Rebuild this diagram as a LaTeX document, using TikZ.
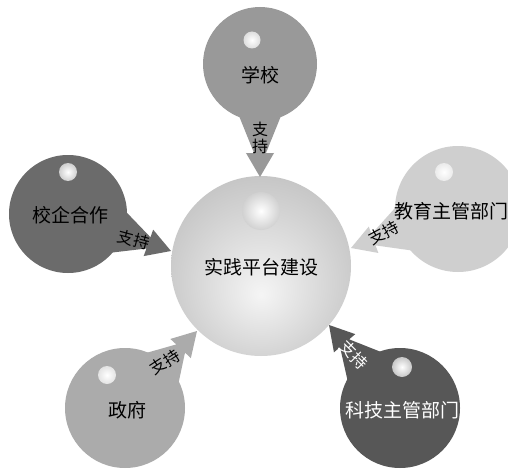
\documentclass[tikz,border=0pt]{standalone}
\usepackage{fontspec}
\setmainfont{Noto Sans CJK SC}
\usetikzlibrary{calc}
\definecolor{cA}{gray}{0.60}
\definecolor{cB}{gray}{0.42}
\definecolor{cC}{gray}{0.81}
\definecolor{cD}{gray}{0.67}
\definecolor{cE}{gray}{0.34}
\definecolor{hA}{gray}{0.74}
\definecolor{hB}{gray}{0.62}
\definecolor{hC}{gray}{0.84}
\definecolor{hD}{gray}{0.78}
\definecolor{hE}{gray}{0.56}
\definecolor{ballin}{gray}{0.96}
\definecolor{ballmid}{gray}{0.78}
\definecolor{ballout}{gray}{0.56}
\definecolor{hlcenter}{gray}{0.64}
\pgfdeclareradialshading{shA}{\pgfpoint{0bp}{0bp}}{color(0bp)=(white); color(50bp)=(hA)}
\pgfdeclareradialshading{shB}{\pgfpoint{0bp}{0bp}}{color(0bp)=(white); color(50bp)=(hB)}
\pgfdeclareradialshading{shC}{\pgfpoint{0bp}{0bp}}{color(0bp)=(white); color(50bp)=(hC)}
\pgfdeclareradialshading{shD}{\pgfpoint{0bp}{0bp}}{color(0bp)=(white); color(50bp)=(hD)}
\pgfdeclareradialshading{shE}{\pgfpoint{0bp}{0bp}}{color(0bp)=(white); color(50bp)=(hE)}
\pgfdeclareradialshading{shM}{\pgfpoint{0bp}{0bp}}{color(0bp)=(white); color(50bp)=(hlcenter)}
\pgfdeclareradialshading{shBall}{\pgfpoint{0bp}{-8bp}}{color(0bp)=(ballin); color(28bp)=(ballmid); color(50bp)=(ballout)}
\newcommand\bubptr[4]{\fill[#4] ($(#1.center)!#3!22:(#2)$) -- ($(#2)!24.7pt!-14:(#1.center)$) -- ($(#2)!27.8pt!-30.3:(#1.center)$) -- (#2) -- ($(#2)!27.8pt!30.3:(#1.center)$) -- ($(#2)!24.7pt!14:(#1.center)$) -- ($(#1.center)!#3!-22:(#2)$) -- cycle;}
\begin{document}
\begin{tikzpicture}[x=1pt,y=-1pt,
  bub/.style={circle, inner sep=0pt, minimum size=#1},
  hl/.style={circle, inner sep=0pt, minimum size=#1, shade},
  lbl/.style={font=\fontsize{19}{19}\selectfont, inner sep=0pt},
  zhichi/.style={font=\fontsize{16}{17}\selectfont, inner sep=0pt, align=center},
]
\useasboundingbox (0,0) rectangle (508,468);
\clip (0,0) rectangle (508,468);
\fill[white] (0,0) rectangle (508,468);
% centre sphere
\node[bub=180pt, shade, shading=shBall] (M) at (261,266) {};
\node[hl=38pt, shading=shM] (hM) at (261,211) {};
\node[lbl] (tM) at (261,267) {实践平台建设};
% tips
\coordinate (pA) at (260,177);
\coordinate (pB) at (171,251);
\coordinate (pC) at (351,248);
\coordinate (pD) at (197,331);
\coordinate (pE) at (329,325);
% bubble nodes
\node[bub=114pt, fill=cA] (A) at (260,64) {};
\node[bub=118pt, fill=cB] (B) at (68,214) {};
\node[bub=126pt, fill=cC] (C) at (458,209) {};
\node[bub=120pt, fill=cD] (D) at (125,408) {};
\node[bub=120pt, fill=cE] (E) at (400,408) {};
% pointers
\bubptr{A}{pA}{56pt}{cA}
\bubptr{B}{pB}{58pt}{cB}
\bubptr{C}{pC}{62pt}{cC}
\bubptr{D}{pD}{59pt}{cD}
\bubptr{E}{pE}{59pt}{cE}
% highlights
\node[hl=17pt, shading=shA] (hA) at (252,40) {};
\node[hl=18pt, shading=shB] (hB) at (68,172) {};
\node[hl=18pt, shading=shC] (hC) at (444,172) {};
\node[hl=18pt, shading=shD] (hD) at (107,375) {};
\node[hl=20pt, shading=shE] (hE) at (402,367) {};
% labels
\node[lbl] (tA) at (260,75) {学校};
\node[lbl] (tB) at (70,215) {校企合作};
\node[lbl] (tC) at (451,211) {教育主管部门};
\node[lbl] (tD) at (127,410) {政府};
\node[lbl, text=white] (tE) at (402,410) {科技主管部门};
% support labels
\node[zhichi] (sA) at (260,138) {支\\持};
\node[zhichi, rotate=-15] (sB) at (134,240) {支持};
\node[zhichi, rotate=28] (sC) at (384,233) {支持};
\node[zhichi, rotate=33] (sD) at (165,362) {支持};
\node[zhichi, rotate=-45, text=white] (sE) at (354,355) {支持};
\end{tikzpicture}
\end{document}
